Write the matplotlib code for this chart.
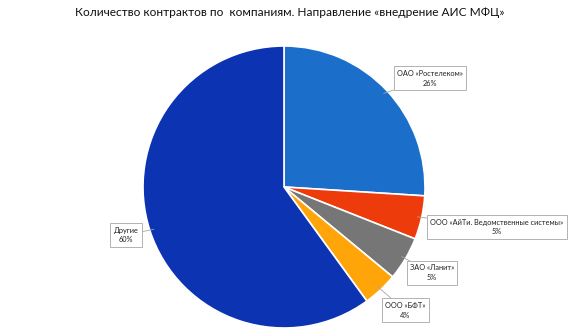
import matplotlib
matplotlib.use("Agg")
import matplotlib.pyplot as plt
import numpy as np

plt.rcParams['font.family'] = ['Lato', 'DejaVu Sans']

title = "Количество контрактов по  компаниям. Направление «внедрение АИС МФЦ»"
companies = ["ОАО «Ростелеком»", "ООО «АйТи. Ведомственные системы»", "ЗАО «Ланит»", "ООО «БФТ»", "Другие"]
shares = [26, 5, 5, 4, 60]
colors = ["#1B6FCB", "#EE3B0B", "#767676", "#FFA50A", "#0B33B2"]
label_pos = [(430, 78), (497, 227), (432, 273), (405, 310), (126, 235)]

W, H = 580, 334
fig = plt.figure(figsize=(W / 100, H / 100), dpi=100)
ax = fig.add_axes([0, 0, 1, 1])

cx, cy, r = 284, H - 187, 141
wedges, _ = ax.pie(shares, colors=colors, startangle=90, counterclock=False,
                   center=(cx, cy), radius=r, frame=True,
                   wedgeprops=dict(edgecolor='white', linewidth=1.2))
ax.set_xlim(0, W)
ax.set_ylim(0, H)
ax.set_aspect('equal')
ax.axis('off')

for w, name, val, (lx, ly) in zip(wedges, companies, shares, label_pos):
    ang = np.deg2rad((w.theta1 + w.theta2) / 2)
    px, py = cx + r * 0.97 * np.cos(ang), cy + r * 0.97 * np.sin(ang)
    ax.annotate(f"{name}\n{val}%", xy=(px, py), xytext=(lx, H - ly),
                ha='center', va='center', fontsize=5.3, color='#222222',
                linespacing=1.5,
                bbox=dict(boxstyle='square,pad=0.45', fc='white', ec='#A6A6A6', lw=0.6),
                arrowprops=dict(arrowstyle='-', color='#A6A6A6', lw=0.6, shrinkA=0, shrinkB=0))

fig.text(0.5, 1 - 12 / H, title, ha='center', va='center', fontsize=8.6, color='#111111')

fig.savefig("out.png", dpi=100, facecolor='white')
